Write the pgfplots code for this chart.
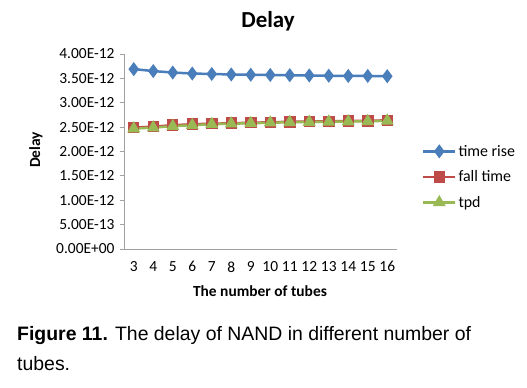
\documentclass[border=0pt]{standalone}
\usepackage{pgfplots}
\pgfplotsset{compat=1.18}
\usepackage{fontspec}
\setmainfont{Carlito}
\newfontfamily\arialfont{Liberation Sans}
\definecolor{xblue}{HTML}{4A7EBB}
\definecolor{xred}{HTML}{BE4B48}
\definecolor{xgreen}{HTML}{98B954}
\definecolor{axgray}{HTML}{A0A0A0}
\begin{document}
\begin{tikzpicture}[x=1bp,y=1bp]
\path[use as bounding box] (0,0) rectangle (527,-387);
\begin{axis}[
  at={(124bp,-249bp)}, anchor=south west,
  scale only axis, width=273bp, height=195bp,
  xmin=2.5, xmax=16.5, ymin=0, ymax=4,
  axis x line*=bottom, axis y line*=left,
  axis line style={axgray, line width=0.8pt},
  xtick={3,...,16}, xtick style={draw=none},
  ytick={0,0.5,...,4},
  yticklabels={0.00E+00,5.00E-13,1.00E-12,1.50E-12,2.00E-12,2.50E-12,3.00E-12,3.50E-12,4.00E-12},
  ytick style={axgray, line width=0.8pt},
  tick align=outside, major tick length=4bp,
  tick label style={font=\fontsize{15.5}{17}\selectfont},
  /pgf/number format/assume math mode=true,
  xticklabel style={yshift=-5bp},
  yticklabel style={xshift=-2bp},
  legend style={at={(1.08,0.37)}, anchor=west, draw=none, fill=none,
    font=\fontsize{16}{18}\selectfont, row sep=9bp,
    /tikz/every even column/.append style={column sep=0pt}},
  legend cell align=left,
  legend image code/.code={
    \draw[#1, mark=none] (0bp,0bp) -- (32bp,0bp);
    \path[#1] plot coordinates {(16bp,0bp)};},
]
\addplot[xblue, line width=2.5pt, mark=diamond*, mark size=5bp, mark options={solid}] coordinates {
(3,3.69) (4,3.65) (5,3.62) (6,3.60) (7,3.59) (8,3.58) (9,3.575) (10,3.57) (11,3.565) (12,3.56) (13,3.555) (14,3.55) (15,3.55) (16,3.545)};
\addlegendentry{time rise}
\addplot[xred, line width=2.5pt, mark=square*, mark size=4.5bp] coordinates {
(3,2.49) (4,2.51) (5,2.54) (6,2.56) (7,2.57) (8,2.58) (9,2.59) (10,2.60) (11,2.61) (12,2.615) (13,2.62) (14,2.625) (15,2.63) (16,2.64)};
\addlegendentry{fall time}
\addplot[xgreen, line width=2.5pt, mark=triangle*, mark size=5bp] coordinates {
(3,2.47) (4,2.49) (5,2.52) (6,2.54) (7,2.56) (8,2.57) (9,2.58) (10,2.59) (11,2.60) (12,2.605) (13,2.61) (14,2.615) (15,2.62) (16,2.63)};
\addlegendentry{tpd}
\end{axis}
\node[font=\bfseries\fontsize{23}{27}\selectfont] at (268,-21) {Delay};
\node[font=\bfseries\fontsize{15.5}{17}\selectfont, rotate=90] at (36,-150) {Delay};
\node[font=\bfseries\fontsize{15.5}{17}\selectfont] at (260,-291) {The number of tubes};
\node[font=\arialfont\fontsize{19.5}{30}\selectfont, anchor=north west, align=left, inner sep=0pt] at (17,-326)
  {\textbf{Figure 11.} The delay of NAND in different number of\\tubes.};
\end{tikzpicture}
\end{document}
